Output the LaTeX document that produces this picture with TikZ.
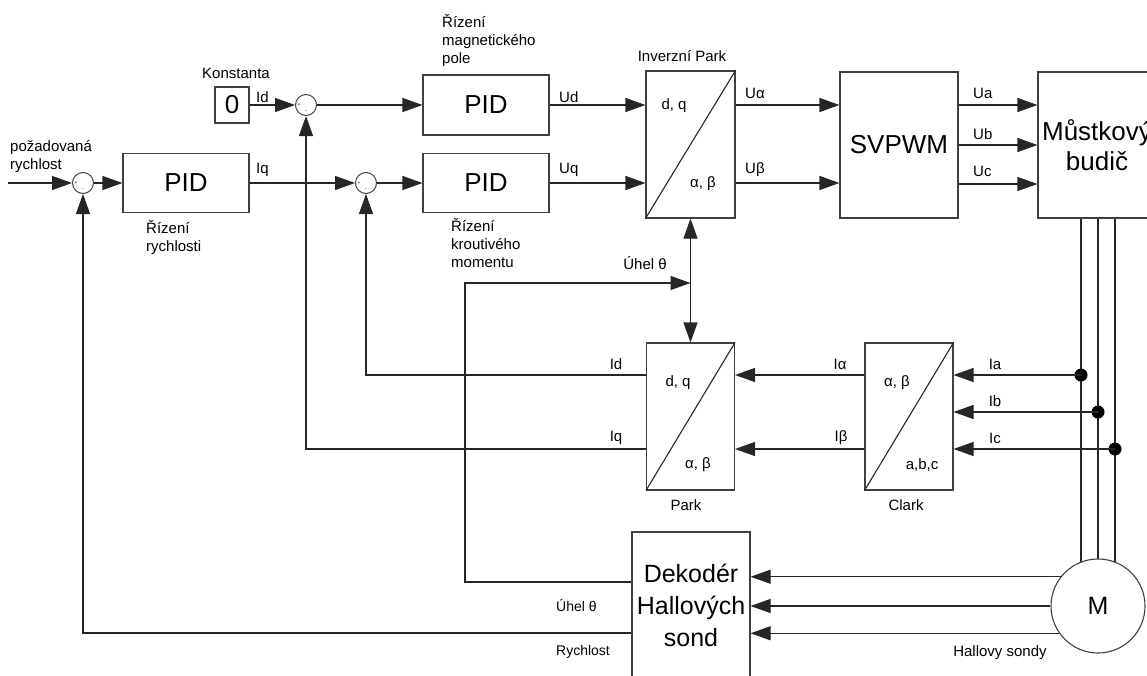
\documentclass[tikz,border=0pt]{standalone}
\usepackage{fontspec}
\setmainfont{Liberation Sans}
\usetikzlibrary{arrows.meta,shapes,backgrounds,positioning}

\begin{document}
\begin{tikzpicture}[x=1pt,y=-1pt,
  blok/.style={draw=black!75, line width=1.1pt, inner sep=0pt, align=center, font=\fontsize{26}{30}\selectfont},
  suma/.style={circle, draw=black!75, line width=1pt, minimum size=21pt, inner sep=0pt},
  znam/.style={font=\fontsize{5}{5}\selectfont, inner sep=0pt},
  popis/.style={font=\fontsize{15}{18}\selectfont, inner sep=0pt, align=left},
  maly/.style={font=\fontsize{14}{16}\selectfont, inner sep=0pt},
  sipka/.style={-{Triangle[length=20pt,width=14pt]}, line width=1.1pt, draw=black!85},
  vodic/.style={line width=1.1pt, draw=black!85}]
\useasboundingbox (0,0) rectangle (1147,675);
\clip (0,0) rectangle (1147,675);

% bloky
\node[suma] (sum1) at (83,183) {};
\node[blok, minimum width=126pt, minimum height=59pt] (pid1) at (186,183) {PID};
\node[blok, minimum width=34pt, minimum height=36pt] (konst) at (232,105) {0};
\node[suma] (sum2) at (306,105) {};
\node[suma] (sum3) at (366,183) {};
\node[blok, minimum width=126pt, minimum height=60pt] (pid2) at (486,105) {PID};
\node[blok, minimum width=126pt, minimum height=59pt] (pid3) at (486,183) {PID};
\node[blok, minimum width=89pt, minimum height=147pt] (ipark) at (690.5,144.5) {};
\node[blok, minimum width=118pt, minimum height=146pt] (svpwm) at (899,145) {SVPWM};
\node[blok, minimum width=118pt, minimum height=146pt] (most) at (1097,145) {Můstkový\\budič};
\node[blok, minimum width=88pt, minimum height=147pt] (park) at (690.5,416.5) {};
\node[blok, minimum width=88pt, minimum height=147pt] (clark) at (909,416.5) {};
\node[blok, minimum width=118pt, minimum height=146pt, font=\fontsize{25}{32}\selectfont] (dek) at (691,605) {Dekodér\\Hallových\\sond};
\node[blok, circle, minimum size=94pt, fill=white, font=\fontsize{25}{25}\selectfont] (motor) at (1098,606) {M};

\foreach \s in {sum1,sum2,sum3} {
  \node[znam] at ([shift={(-7,0)}]\s.center) {+};
  \node[znam] at ([shift={(0,7)}]\s.center) {-};
}
\foreach \b in {ipark,park,clark}
  \draw[vodic] (\b.south west) -- (\b.north east);

% body
\coordinate (vstup) at (8,183);
\coordinate (ua) at (0,105);
\coordinate (ub) at (0,145);
\coordinate (uc) at (0,184);
\coordinate (ia) at (1081,375);
\coordinate (ib) at (1098,412);
\coordinate (ic) at (1115,449);
\coordinate (theta) at (690.5,283);
\coordinate (roh) at (465,283);
\coordinate (uhel) at (0,582);
\coordinate (rych) at (0,633);

% dopredna vetev
\draw[sipka] (vstup) -- (sum1);
\draw[sipka] (sum1) -- (pid1);
\draw[sipka] (pid1) -- (sum3);
\draw[sipka] (konst) -- (sum2);
\draw[sipka] (sum2) -- (pid2);
\draw[sipka] (sum3) -- (pid3);
\draw[sipka] (pid2) -- (ipark.west |- pid2);
\draw[sipka] (pid3) -- (ipark.west |- pid3);
\draw[sipka] (ipark.east |- pid2) -- (svpwm.west |- pid2);
\draw[sipka] (ipark.east |- pid3) -- (svpwm.west |- pid3);
\foreach \u in {ua,ub,uc}
  \draw[sipka] (svpwm.east |- \u) -- (most.west |- \u);

% vodice k motoru
\begin{scope}[on background layer]
\foreach \c in {ia,ib,ic}
  \draw[vodic] (\c |- most.south) -- (\c |- motor.center);
\end{scope}
\foreach \c in {ia,ib,ic} {
  \fill[black] (\c) circle (6.5pt);
  \draw[sipka] (\c) -- (clark.east |- \c);
}

% zpetne vazby
\draw[sipka] (clark.west |- ia) -- (park.east |- ia);
\draw[sipka] (clark.west |- ic) -- (park.east |- ic);
\draw[sipka] (park.west |- ia) -| (sum3);
\draw[sipka] (park.west |- ic) -| (sum2);
\draw[sipka] (dek.west |- rych) -| (sum1);
\draw[sipka] (dek.west |- uhel) -| (roh) -- (theta);
\draw[sipka] (theta) -- (ipark.south);
\draw[sipka] (theta) -- (park.north);
\draw[sipka] (motor.142) -- (dek.east |- motor.142);
\draw[sipka] (motor.west) -- (dek.east |- motor.west);
\draw[sipka] (motor.215) -- (dek.east |- motor.215);

% popisky
\node[popis, anchor=west] (lpoz) at (10,157) {požadovaná\\rychlost};
\node[popis] (lkonst) at (236,73) {Konstanta};
\node[popis, anchor=west] (lid1) at (256,97) {Id};
\node[popis, anchor=west] (liq1) at (256,170) {Iq};
\node[popis, anchor=west] (lrr) at (146,237) {Řízení\\rychlosti};
\node[popis, anchor=west] (lrm) at (442,40) {Řízení\\magnetického\\pole};
\node[popis, anchor=west] (lrk) at (451,243) {Řízení\\kroutivého\\momentu};
\node[popis, anchor=west] (lud) at (559,97) {Ud};
\node[popis, anchor=west] (luq) at (559,170) {Uq};
\node[popis] (linv) at (682,56) {Inverzní Park};
\node[popis] (lip1) at (674,106) {d, q};
\node[popis] (lip2) at (703,184) {α, β};
\node[popis, anchor=west] (lua) at (745,93) {Uα};
\node[popis, anchor=west] (lub) at (745,170) {Uβ};
\node[popis, anchor=west] (lUa) at (973,93) {Ua};
\node[popis, anchor=west] (lUb) at (973,134) {Ub};
\node[popis, anchor=west] (lUc) at (973,171) {Uc};
\node[popis] (luhel1) at (645,263) {Úhel θ};
\node[popis] (lp1) at (678,383) {d, q};
\node[popis] (lp2) at (698,465) {α, β};
\node[popis] (lpark) at (686,505) {Park};
\node[popis] (lid2) at (616,364) {Id};
\node[popis] (liq2) at (616,438) {Iq};
\node[popis] (lia) at (840,364) {Iα};
\node[popis] (lib) at (841,438) {Iβ};
\node[popis] (lc1) at (897,383) {α, β};
\node[popis] (lc2) at (922,465) {a,b,c};
\node[popis] (lclark) at (906,505) {Clark};
\node[popis] (lIa) at (995,364) {Ia};
\node[popis] (lIb) at (995,401) {Ib};
\node[popis] (lIc) at (995,438) {Ic};
\node[maly, anchor=west] (luhel2) at (556,605) {Úhel θ};
\node[maly, anchor=west] (lrych) at (556,652) {Rychlost};
\node[popis] (lhall) at (1000,653) {Hallovy sondy};

\end{tikzpicture}
\end{document}
